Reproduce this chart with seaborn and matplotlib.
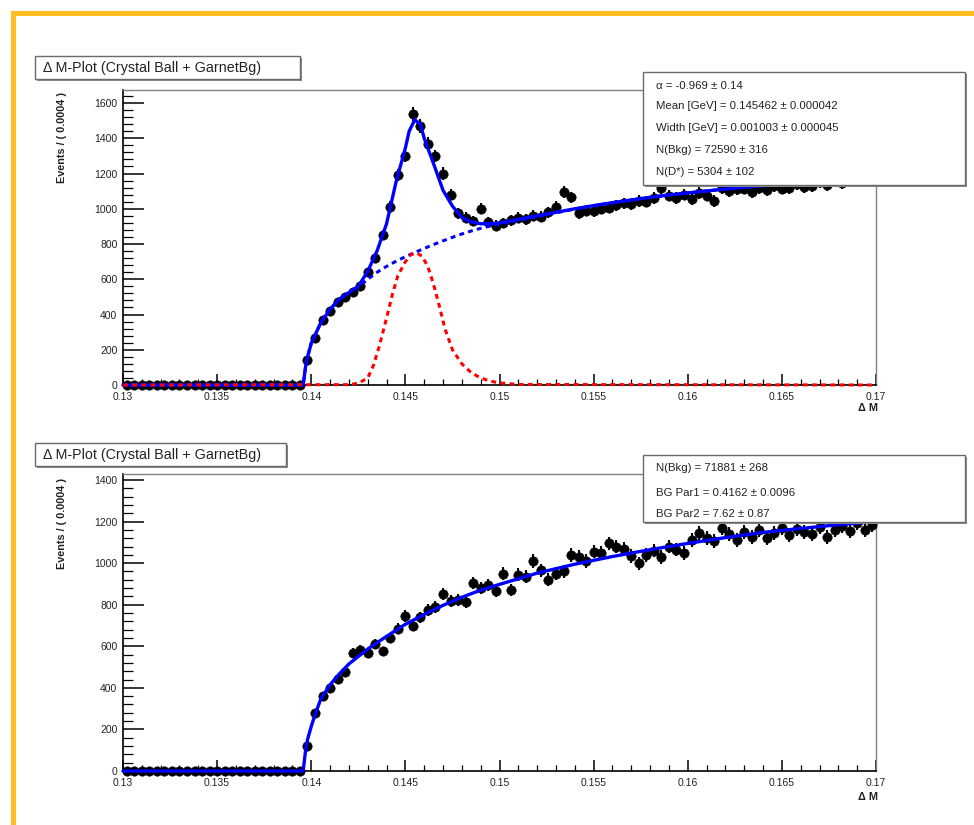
import numpy as np
import pandas as pd
import matplotlib
matplotlib.use("Agg")
import matplotlib.pyplot as plt
import seaborn as sns
from matplotlib.patches import Rectangle
from matplotlib.ticker import MultipleLocator, FixedLocator

sns.set_style("white")
plt.rcParams['font.family'] = ['Liberation Sans', 'DejaVu Sans']

W, H = 974, 825

# ---------------- data ----------------
bin_lo, bin_hi, bin_w = 0.13, 0.17, 0.0004

x_ticks = [0.13, 0.135, 0.14, 0.145, 0.15, 0.155, 0.16, 0.165, 0.17]
x_tick_labels = ["0.13", "0.135", "0.14", "0.145", "0.15", "0.155", "0.16", "0.165", "0.17"]

top_counts = [0] * 24 + [
    140, 265, 370, 420, 470, 500, 530, 560, 640, 720,
    850, 1010, 1190, 1300, 1540, 1470, 1370, 1300, 1200, 1080,
    975, 950, 930, 1000, 925, 905, 920, 935, 950, 940,
    960, 955, 980, 1010, 1095, 1065, 975, 990, 985, 1000,
    1005, 1020, 1030, 1025, 1045, 1040, 1060, 1120, 1075, 1060,
    1080, 1055, 1090, 1075, 1045, 1120, 1100, 1110, 1115, 1095,
    1120, 1105, 1130, 1115, 1120, 1140, 1125, 1130, 1150, 1135,
    1160, 1145, 1170, 1155, 1180, 1160]

bot_counts = [0] * 24 + [
    120, 280, 360, 400, 445, 475, 570, 580, 570, 610,
    575, 640, 685, 745, 700, 740, 775, 790, 850, 820,
    825, 815, 905, 880, 895, 865, 950, 870, 945, 935,
    1010, 965, 920, 950, 960, 1040, 1030, 1010, 1055, 1050,
    1095, 1080, 1070, 1035, 1000, 1040, 1060, 1030, 1080, 1065,
    1050, 1110, 1145, 1120, 1105, 1170, 1140, 1110, 1150, 1125,
    1160, 1120, 1145, 1170, 1135, 1165, 1150, 1140, 1175, 1125,
    1160, 1180, 1155, 1195, 1160, 1185]

# fitted curves
top_fit_x = [0.1300, 0.13957, 0.1397, 0.1398, 0.1400, 0.1405, 0.1410, 0.1415, 0.1420,
             0.1425, 0.1430, 0.1435, 0.1440, 0.1445, 0.1450, 0.1452, 0.1455, 0.1458,
             0.1460, 0.1465, 0.1470, 0.1475, 0.1480, 0.1485, 0.1490, 0.1495, 0.1500,
             0.1510, 0.1520, 0.1530, 0.1540, 0.1550, 0.1560, 0.1570, 0.1580, 0.1590,
             0.1600, 0.1620, 0.1640, 0.1660, 0.1680, 0.1700]
top_fit_total = [0, 0, 105, 158, 237, 352, 430, 488, 525,
                 560, 645, 762, 915, 1150, 1345, 1440, 1505, 1480,
                 1400, 1255, 1105, 1015, 950, 925, 915, 915, 920,
                 940, 960, 980, 1000, 1018, 1035, 1050, 1065, 1078,
                 1090, 1112, 1132, 1150, 1165, 1178]

top_bkg_x = [0.1300, 0.13957, 0.1397, 0.1398, 0.1400, 0.1405, 0.1410, 0.1415, 0.1420,
             0.1425, 0.1430, 0.1435, 0.1440, 0.1445, 0.1450, 0.1455, 0.1460, 0.1465,
             0.1470, 0.1475, 0.1480, 0.1485, 0.1490, 0.1495, 0.1500, 0.1510, 0.1520,
             0.1530, 0.1540, 0.1550, 0.1560, 0.1570, 0.1580, 0.1590, 0.1600, 0.1620,
             0.1640, 0.1660, 0.1680, 0.1700]
top_fit_bkg = [0, 0, 105, 158, 237, 352, 430, 488, 522,
               555, 600, 640, 673, 702, 728, 752, 775, 797,
               818, 838, 857, 874, 889, 902, 913, 933, 955,
               977, 998, 1017, 1034, 1050, 1065, 1078, 1090, 1112,
               1132, 1150, 1165, 1178]

top_sig_x = [0.1300, 0.1420, 0.1425, 0.1430, 0.1433, 0.1436, 0.1440, 0.1443, 0.1446,
             0.1450, 0.1453, 0.1456, 0.1459, 0.1462, 0.1465, 0.1468, 0.1471, 0.1475,
             0.1480, 0.1485, 0.1490, 0.1495, 0.1500, 0.1510, 0.1700]
top_fit_sig = [0, 2, 10, 40, 110, 215, 380, 510, 620,
               700, 740, 750, 730, 670, 570, 450, 320, 200,
               120, 70, 40, 22, 12, 3, 0]

bot_fit_x = [0.1300, 0.13957, 0.1397, 0.1398, 0.1400, 0.1402, 0.1405, 0.1410, 0.1415,
             0.1420, 0.1430, 0.1440, 0.1450, 0.1460, 0.1470, 0.1480, 0.1490, 0.1500,
             0.1520, 0.1540, 0.1560, 0.1580, 0.1600, 0.1620, 0.1640, 0.1660, 0.1680,
             0.1700]
bot_fit = [0, 0, 100, 150, 215, 270, 345, 415, 468,
           515, 587, 648, 706, 753, 797, 836, 870, 898,
           952, 995, 1032, 1065, 1095, 1123, 1148, 1167, 1185,
           1200]

title_text = "\u0394 M-Plot (Crystal Ball + GarnetBg)"
ylabel_text = "Events / ( 0.0004 )"
xlabel_text = "\u0394 M"
top_stats = ["\u03b1 = -0.969 \u00b1 0.14",
             "Mean [GeV] = 0.145462 \u00b1 0.000042",
             "Width [GeV] = 0.001003 \u00b1 0.000045",
             "N(Bkg) = 72590 \u00b1 316",
             "N(D*) = 5304 \u00b1 102"]
bot_stats = ["N(Bkg) = 71881 \u00b1 268",
             "BG Par1 = 0.4162 \u00b1 0.0096",
             "BG Par2 = 7.62 \u00b1 0.87"]

# ---------------- figure ----------------
fig = plt.figure(figsize=(W / 100, H / 100), dpi=100)
fig.patch.set_facecolor("white")


def fx(px):
    return px / W


def fy(py):
    return 1 - py / H


def px_rect(x0, y0, x1, y1, z=10, **kw):
    r = Rectangle((fx(x0), fy(y1)), fx(x1) - fx(x0), fy(y0) - fy(y1),
                  transform=fig.transFigure, zorder=z, **kw)
    fig.add_artist(r)
    return r


def box(x0, y0, x1, y1, shadow=2):
    px_rect(x0 + shadow, y0 + shadow, x1 + shadow, y1 + shadow, z=10,
            facecolor="#8a8a8a", edgecolor="none")
    px_rect(x0, y0, x1, y1, z=11, facecolor="white", edgecolor="#6a6a6a", linewidth=1.0)


centers = bin_lo + bin_w * (np.arange(len(top_counts)) + 0.5)


def draw_panel(ax, counts, ymax, ylab_y, xlab_y):
    df = pd.DataFrame({"dM": centers, "events": counts})
    err = np.sqrt(df["events"].to_numpy(dtype=float))
    ax.errorbar(df["dM"], df["events"], yerr=err, xerr=bin_w / 2, fmt="none",
                ecolor="black", elinewidth=1.5, capsize=0, zorder=2, clip_on=False)
    sns.scatterplot(data=df, x="dM", y="events", ax=ax, color="black", s=46,
                    edgecolor="black", linewidth=0.4, zorder=3, legend=False, clip_on=False)
    ax.set_xlim(bin_lo, bin_hi)
    ax.set_ylim(0, ymax)
    ax.xaxis.set_major_locator(FixedLocator(x_ticks))
    ax.set_xticklabels(x_tick_labels)
    ax.xaxis.set_minor_locator(MultipleLocator(0.001))
    ax.yaxis.set_major_locator(MultipleLocator(200))
    ax.yaxis.set_minor_locator(MultipleLocator(40))
    ax.tick_params(axis="both", which="both", direction="in", colors="black",
                   labelsize=7.5, top=False, right=False, bottom=True, left=True)
    ax.tick_params(axis="y", which="major", length=15, width=1.1, pad=4)
    ax.tick_params(axis="y", which="minor", length=7, width=0.9)
    ax.tick_params(axis="x", which="major", length=8, width=1.1, pad=5)
    ax.tick_params(axis="x", which="minor", length=4, width=0.9)
    for lab in ax.get_xticklabels() + ax.get_yticklabels():
        lab.set_color("#222222")
    ax.set_xlabel("")
    ax.set_ylabel("")
    for s in ["left", "bottom"]:
        ax.spines[s].set_color("black")
        ax.spines[s].set_linewidth(1.2)
    for s in ["top", "right"]:
        ax.spines[s].set_color("#808080")
        ax.spines[s].set_linewidth(1.0)
    fig.text(fx(62), fy(ylab_y), ylabel_text, rotation=90, ha="center", va="top",
             fontsize=7.8, fontweight="bold", color="#222222")
    fig.text(fx(868), fy(xlab_y), xlabel_text, ha="center", va="center",
             fontsize=7.8, fontweight="bold", color="#222222")


# top panel
ax1 = fig.add_axes([fx(123), fy(385), fx(876) - fx(123), fy(90) - fy(385)])
draw_panel(ax1, top_counts, 1674, 92, 408)
sns.lineplot(x=top_fit_x, y=top_fit_total, ax=ax1, color="#0000ff", linewidth=2.4,
             estimator=None, sort=False, zorder=4, clip_on=False)
sns.lineplot(x=top_bkg_x, y=top_fit_bkg, ax=ax1, color="#0000ff", linewidth=2.2,
             estimator=None, sort=False, zorder=5, linestyle=(0, (1.6, 1.4)), clip_on=False)
sns.lineplot(x=top_sig_x, y=top_fit_sig, ax=ax1, color="#ff0000", linewidth=2.2,
             estimator=None, sort=False, zorder=5, linestyle=(0, (1.6, 1.4)), clip_on=False)
ax1.set_xlim(bin_lo, bin_hi)
ax1.set_ylim(0, 1674)

# bottom panel
ax2 = fig.add_axes([fx(123), fy(771), fx(876) - fx(123), fy(474) - fy(771)])
draw_panel(ax2, bot_counts, 1429, 478, 797)
sns.lineplot(x=bot_fit_x, y=bot_fit, ax=ax2, color="#0000ff", linewidth=2.4,
             estimator=None, sort=False, zorder=4, clip_on=False)
ax2.set_xlim(bin_lo, bin_hi)
ax2.set_ylim(0, 1429)

# title boxes
box(35, 56, 300, 79)
fig.text(fx(43), fy(68), title_text, ha="left", va="center", fontsize=10.3, zorder=12,
         color="#222222")
box(35, 443, 286, 466)
fig.text(fx(43), fy(455), title_text, ha="left", va="center", fontsize=10.3, zorder=12,
         color="#222222")

# stat boxes
box(643, 72, 965, 185)
for line, yy in zip(top_stats, [86, 106, 128, 150, 172]):
    fig.text(fx(656), fy(yy), line, ha="left", va="center", fontsize=8.2, zorder=12,
             color="#222222")
box(643, 455, 965, 522)
for line, yy in zip(bot_stats, [468, 493, 514]):
    fig.text(fx(656), fy(yy), line, ha="left", va="center", fontsize=8.2, zorder=12,
             color="#222222")

# orange frame
px_rect(11, 11, 974, 16, z=20, facecolor="#FFBF22", edgecolor="none")
px_rect(11, 11, 16, 825, z=20, facecolor="#FFBF22", edgecolor="none")

fig.savefig("out.png", dpi=100, facecolor="white")
